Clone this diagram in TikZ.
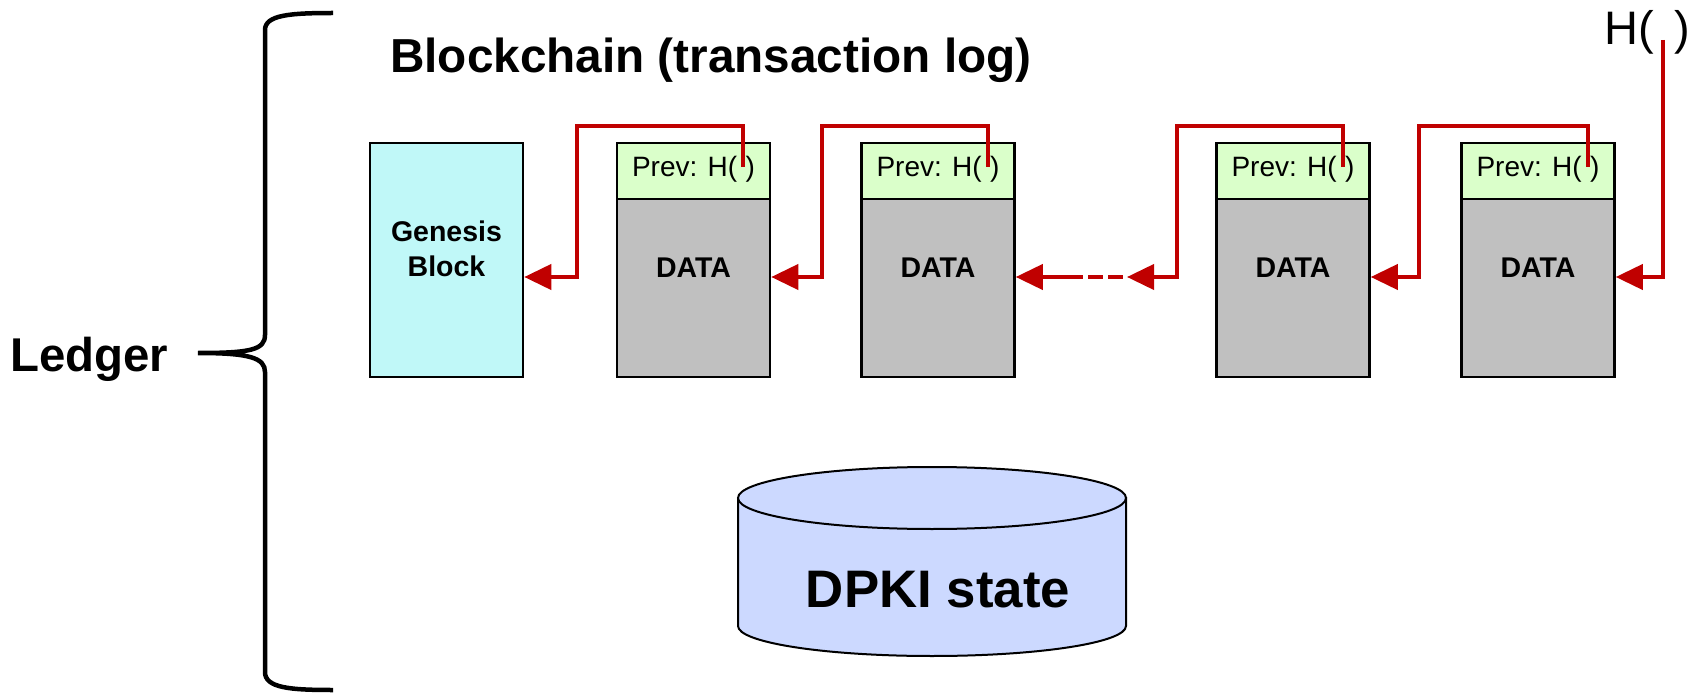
\documentclass[tikz,border=0pt]{standalone}
\usepackage{fontspec}
\setmainfont{Liberation Sans}
\usetikzlibrary{arrows.meta}
\definecolor{redc}{HTML}{C00000}
\definecolor{gencyan}{HTML}{C0F8F8}
\definecolor{hdrgreen}{HTML}{DAFFCA}
\definecolor{datagray}{HTML}{C0C0C0}
\definecolor{cylblue}{HTML}{CCD9FF}
\tikzset{
  hdrbox/.style={draw, fill=hdrgreen, line width=2.5pt, minimum width=153pt, minimum height=56pt, inner sep=0pt},
  databox/.style={draw, fill=datagray, line width=2.5pt, minimum width=153pt, minimum height=178pt, inner sep=0pt},
  genbox/.style={draw, fill=gencyan, line width=2.5pt, minimum width=153pt, minimum height=234pt, inner sep=0pt},
  prevtxt/.style={font=\fontsize{28}{32}\selectfont, anchor=base, inner sep=0pt},
  datatxt/.style={font=\bfseries\fontsize{28.5}{32}\selectfont, anchor=base, inner sep=0pt},
  link/.style={draw=redc, line width=4pt, -{Triangle[length=27pt,width=25pt]}},
  redline/.style={draw=redc, line width=4pt},
}
\begin{document}
\begin{tikzpicture}[x=1pt,y=-1pt]
\useasboundingbox (0,0) rectangle (1698,695);
% level of arrows
\coordinate (yl) at (0,277);
% title
\node[font=\bfseries\fontsize{47.7}{52}\selectfont, anchor=base west, inner sep=0pt] (title) at (390,73) {Blockchain (transaction log)};
% ledger + brace
\node[font=\bfseries\fontsize{47.4}{52}\selectfont, anchor=base west, inner sep=0pt] (ledger) at (10,371) {Ledger};
\draw[line width=4.5pt] (333,13) .. controls (290,13) and (265,15) .. (265,30) -- (265,335)
  .. controls (265,350) and (250,353) .. (198,353)
  .. controls (250,353) and (265,358) .. (265,372) -- (265,672)
  .. controls (265,688) and (290,690) .. (333,690);
% genesis
\node[genbox] (gen) at (446.5,260) {};
\node[font=\bfseries\fontsize{28.5}{35}\selectfont, align=center, inner sep=0pt] (gentxt) at (446.5,249) {Genesis\\Block};
% blocks
\foreach \i/\x in {2/693.5,3/938,4/1293,5/1538}{
  \node[hdrbox] (b\i h) at (\x,171) {};
  \node[databox] (b\i d) at (\x,288) {};
  \node[prevtxt] (b\i p) at (\x,177) {Prev: H(\hspace{0.3em})};
  \node[datatxt] (b\i t) at (\x,277) {DATA};
}
% hash pointer start points
\coordinate (p2) at (743,167);
\coordinate (p3) at (988,167);
\coordinate (p4) at (1343,167);
\coordinate (p5) at (1588,167);
% links
\draw[link] (p2) -- (743,126) -- (577,126) -- (577,277) -- (gen.east |- yl);
\draw[link] (p3) -- (988,126) -- (822,126) -- (822,277) -- (b2d.east |- yl);
\coordinate (d1) at (1127,277);
\coordinate (d2) at (1068,277);
\draw[link] (p4) -- (1343,126) -- (1177,126) -- (1177,277) -- (d1);
\draw[redline, dash pattern=on 15pt off 5pt] (d2) -- (1124,277);
\draw[link] (d2) -- (b3d.east |- yl);
\draw[link] (p5) -- (1588,126) -- (1419,126) -- (1419,277) -- (b4d.east |- yl);
% top H( )
\node[font=\fontsize{47}{52}\selectfont, anchor=base west, inner sep=0pt] (htop) at (1604,45) {H(\hspace{0.45em})};
\coordinate (ph) at (1663,40);
\draw[link] (ph) -- (1663,277) -- (b5d.east |- yl);
% DPKI state cylinder
\draw[line width=2pt, fill=cylblue] (738,498) -- (738,626) arc[start angle=180, end angle=360, x radius=194pt, y radius=30pt] -- (1126,498) -- cycle;
\draw[line width=2pt, fill=cylblue] (932,498) ellipse [x radius=194pt, y radius=31pt];
\node[font=\bfseries\fontsize{52.8}{58}\selectfont, anchor=base, inner sep=0pt] (dpki) at (938,607) {DPKI state};
\end{tikzpicture}
\end{document}
